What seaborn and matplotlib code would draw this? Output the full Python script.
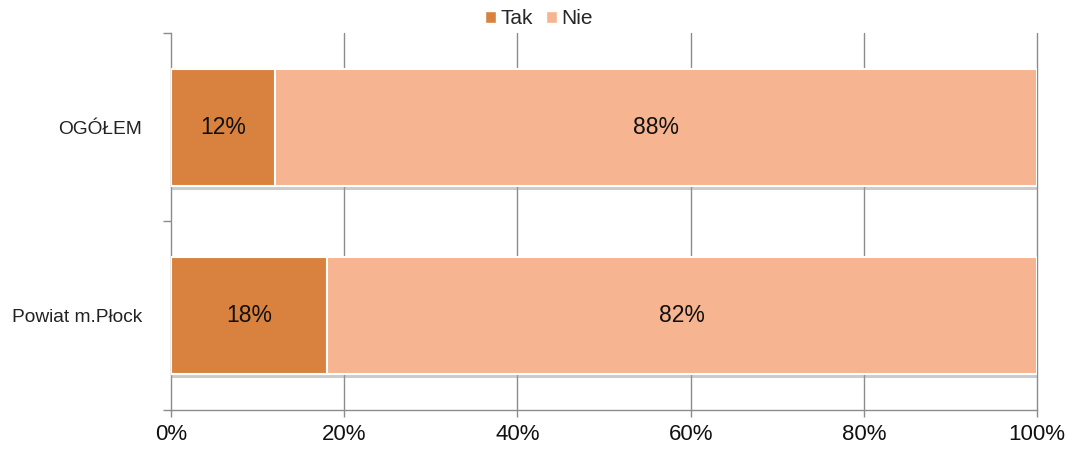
import matplotlib
matplotlib.use("Agg")
import matplotlib.pyplot as plt
import matplotlib.patheffects as pe
from matplotlib.patches import Patch
import seaborn as sns
import pandas as pd

categories = ["OGÓŁEM", "Powiat m.Płock"]
tak = [12, 18]
nie = [88, 82]
series_names = ["Tak", "Nie"]
x_ticks = [0, 20, 40, 60, 80, 100]
x_tick_labels = ["0%", "20%", "40%", "60%", "80%", "100%"]

sns.set_theme(style="white")
plt.rcParams['font.family'] = ['Liberation Sans', 'DejaVu Sans']

c_tak = "#D9823F"
c_nie = "#F7B490"
grid_c = "#8C8C8C"

fig = plt.figure(figsize=(10.67, 4.5), dpi=100)
ax = fig.add_axes([0.1603, 0.0889, 0.8116, 0.8378])

df = pd.DataFrame({"cat": categories, "tak": tak, "nie": nie})
df["total"] = df["tak"] + df["nie"]

shadow = [pe.SimplePatchShadow(offset=(0, -3), shadow_rgbFace="#999999", alpha=0.5), pe.Normal()]

sns.barplot(data=df, y="cat", x="total", color=c_nie, width=0.62, ax=ax,
            edgecolor="white", linewidth=1.5, saturation=1, zorder=3)
nie_patches = list(ax.patches)
sns.barplot(data=df, y="cat", x="tak", color=c_tak, width=0.62, ax=ax,
            edgecolor="white", linewidth=1.5, saturation=1, zorder=4)

for p in nie_patches:
    p.set_path_effects(shadow)

for i, (t, n) in enumerate(zip(tak, nie)):
    ax.text(t / 2, i, f"{t}%", ha="center", va="center", fontsize=16.5, color="#111111", zorder=6)
    ax.text(t + n / 2, i, f"{n}%", ha="center", va="center", fontsize=16.5, color="#111111", zorder=6)

ax.set_xlim(0, 100)
ax.set_ylim(1.5, -0.5)
ax.set_xticks(x_ticks)
ax.set_xticklabels(x_tick_labels, fontsize=16)
ax.set_xlabel("")
ax.set_ylabel("")
ax.set_yticks([0, 1])
ax.set_yticklabels(categories, fontsize=13.8, color="#222222")
ax.set_yticks([-0.5, 0.5, 1.5], minor=True)
ax.tick_params(axis="y", which="major", length=0, pad=21)
ax.tick_params(axis="y", which="minor", length=6, color=grid_c, width=1, left=True)
ax.tick_params(axis="x", which="major", length=5, color=grid_c, width=1, bottom=True, pad=5,
               labelcolor="#111111")

for x in x_ticks[1:]:
    ax.axvline(x, color=grid_c, linewidth=1, zorder=1, clip_on=False)

for s in ["top", "right"]:
    ax.spines[s].set_visible(False)
for s in ["left", "bottom"]:
    ax.spines[s].set_color(grid_c)
    ax.spines[s].set_linewidth(1)

handles = [Patch(facecolor=c_tak, edgecolor="white"), Patch(facecolor=c_nie, edgecolor="white")]
fig.legend(handles, series_names,
           loc="center", bbox_to_anchor=(0.505, 1 - 19 / 450), ncol=2, frameon=False,
           fontsize=15, handlelength=0.55, handleheight=0.55, handletextpad=0.2,
           columnspacing=0.6, borderaxespad=0.0, borderpad=0.0)

fig.savefig("out.png", dpi=100)
